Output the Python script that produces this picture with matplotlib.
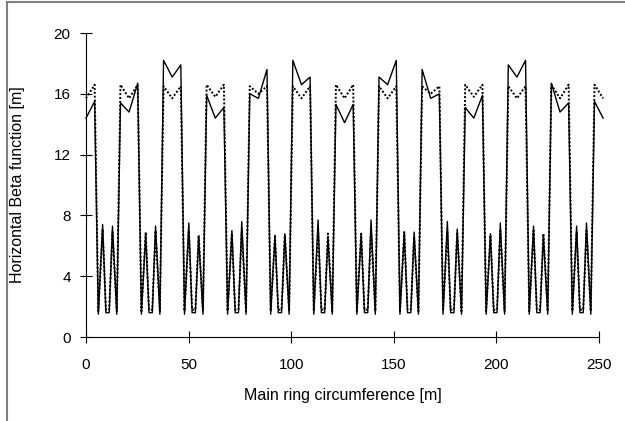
import numpy as np
import matplotlib
matplotlib.use("Agg")
import matplotlib.pyplot as plt
from matplotlib.lines import Line2D

plt.rcParams['font.family'] = ['Liberation Sans', 'DejaVu Sans']

# Cell centres along the ring [m] (12 cells, ring closes at 252 m)
cell_centres = [0, 21, 42, 63, 84, 105, 126, 147, 168, 189, 210, 231, 252]

# Solid line: high-beta group at each centre (left top, dip, right top)
solid_top_left = [None, 15.4, 18.2, 15.9, 16.0, 18.2, 15.3, 17.1, 17.6, 15.1, 17.9, 16.7, 15.5]
solid_dip = [14.4, 14.8, 17.1, 14.4, 15.7, 16.6, 14.1, 16.6, 15.7, 14.4, 17.1, 14.8, 14.4]
solid_top_right = [15.5, 16.7, 17.9, 15.1, 17.6, 17.1, 15.3, 18.2, 16.0, 15.9, 18.2, 15.4, None]
# Solid line: the two small peaks in each low-beta stretch
solid_low_pk1 = [7.4, 6.8, 7.5, 7.0, 6.7, 7.7, 6.8, 6.9, 7.6, 6.8, 7.3, 7.3]
solid_low_pk2 = [7.3, 7.3, 6.6, 7.6, 6.8, 6.6, 7.7, 6.9, 7.1, 7.5, 6.7, 7.5]
solid_min = 1.5

# Dotted line
dot_top_left = [None, 16.6, 16.5, 16.6, 16.5, 16.5, 16.6, 16.5, 16.5, 16.6, 16.5, 16.6, 16.6]
dot_dip = [15.7, 15.7, 15.7, 15.8, 16.0, 15.7, 15.7, 15.7, 16.0, 15.8, 15.7, 15.7, 15.7]
dot_top_right = [16.6, 16.6, 16.5, 16.6, 16.5, 16.5, 16.6, 16.5, 16.5, 16.6, 16.5, 16.6, None]
dot_low_pk1 = [7.1, 6.9, 7.0, 6.8, 6.6, 7.0, 6.8, 6.9, 6.9, 6.7, 7.0, 6.9]
dot_low_pk2 = [6.9, 7.0, 6.7, 6.9, 6.7, 6.8, 7.0, 6.6, 6.9, 7.0, 6.8, 7.0]
dot_min = 1.7

# offsets of lattice points relative to cell centre [m]
off_top = 4.2
off_low = [6.0, 8.1, 9.7, 11.3, 12.9, 15.0]


def build_line(top_l, dip, top_r, pk1, pk2, bmin):
    s, b = [], []
    for i, c in enumerate(cell_centres):
        if top_l[i] is not None:
            s.append(c - off_top)
            b.append(top_l[i])
        s.append(c)
        b.append(dip[i])
        if top_r[i] is not None:
            s.append(c + off_top)
            b.append(top_r[i])
        if i < len(pk1):
            vals = [bmin, pk1[i], bmin + 0.1, bmin + 0.1, pk2[i], bmin]
            for o, v in zip(off_low, vals):
                s.append(c + o)
                b.append(v)
    return s, b


s_solid, b_solid = build_line(solid_top_left, solid_dip, solid_top_right,
                              solid_low_pk1, solid_low_pk2, solid_min)
s_dot, b_dot = build_line(dot_top_left, dot_dip, dot_top_right,
                          dot_low_pk1, dot_low_pk2, dot_min)

fig = plt.figure(figsize=(6.25, 4.21), dpi=100)
ax = fig.add_axes([0.1376, 0.1995, 0.8208, 0.7221])

ax.plot(s_dot, b_dot, color='black', lw=1.4, ls=(0, (1, 1)), clip_on=False)
ax.plot(s_solid, b_solid, color='black', lw=1.0, clip_on=False)

ax.set_xlim(0, 250)
ax.set_ylim(0, 20)
ax.set_xticks([0, 50, 100, 150, 200, 250])
ax.set_yticks([0, 4, 8, 12, 16, 20])
ax.spines['top'].set_visible(False)
ax.spines['right'].set_visible(False)
ax.tick_params(direction='inout', length=8, width=0.8, labelsize=11)
ax.tick_params(axis='y', pad=7)
ax.tick_params(axis='x', pad=11)
ax.set_xlabel('Main ring circumference [m]', fontsize=11.5)
ax.set_ylabel('Horizontal Beta function [m]', fontsize=11.5)
ax.xaxis.set_label_coords(0.5, -0.191)
ax.xaxis.label.set_va('center')
ax.yaxis.set_label_coords(-0.1345, 0.5)
ax.yaxis.label.set_va('center')

# figure frame (left and top edges only visible)
fig.add_artist(Line2D([0.0104, 0.0104], [0, 0.9952], transform=fig.transFigure,
                      color='#808080', lw=1.5))
fig.add_artist(Line2D([0.0104, 1.0], [0.9952, 0.9952], transform=fig.transFigure,
                      color='#808080', lw=1.5))

fig.savefig('out.png', dpi=100)
